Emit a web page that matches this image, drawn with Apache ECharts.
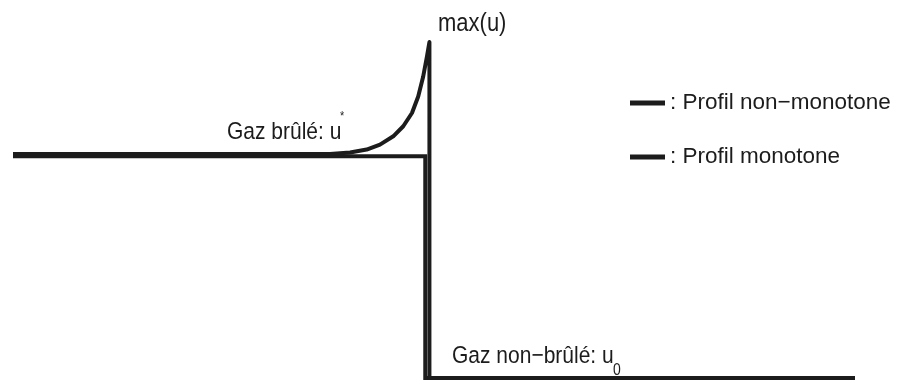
<!DOCTYPE html>
<html>
<head>
<meta charset="utf-8">
<script src="https://cdn.jsdelivr.net/npm/echarts@6/dist/echarts.min.js"></script>
<style>
  html, body { margin: 0; padding: 0; background: #fff; }
  #chart { width: 899px; height: 382px; }
</style>
</head>
<body>
<div id="chart"></div>
<script>
// Velocity profile across a flame front (front at x = 0).
// u = 0 : unburnt gas u0, u = 1 : burnt gas u*.
const xNonMono = [-1, -0.237, -0.189, -0.149, -0.117, -0.085, -0.061, -0.040, -0.025, -0.013, -0.004, 0.002, 0.002, 1.026];
const uNonMono = [1.0, 1.0, 1.007, 1.020, 1.042, 1.079, 1.124, 1.183, 1.257, 1.346, 1.435, 1.5, 0, 0];

const xMono = [-1, -0.008, -0.008, 1.026];
const uMono = [0.99, 0.99, 0, 0];

const seriesNames = ['Profil non\u2212monotone', 'Profil monotone'];
const labelBurnt = 'Gaz brûlé: u';
const labelUnburnt = 'Gaz non\u2212brûlé: u';
const labelMax = 'max(u)';

const FONT = "'Liberation Sans', Arial, Helvetica, sans-serif";
const INK = '#1c1c1c';

const pairs = (xs, ys) => xs.map((x, i) => [x, ys[i]]);

const chart = echarts.init(document.getElementById('chart'), null, { renderer: 'canvas' });

// Annotation text, slightly stretched vertically (condensed look).
const textEl = (text, x, y, size) => ({
  type: 'text',
  x: x,
  y: y,
  scaleY: 1.15,
  silent: true,
  style: {
    text: text,
    fill: INK,
    font: size + 'px ' + FONT,
    verticalAlign: 'middle',
    align: 'left'
  }
});

chart.setOption({
  animation: false,
  backgroundColor: '#fff',
  grid: { left: 13, right: 44, top: 30, bottom: 4, containLabel: false },
  xAxis: {
    type: 'value', min: -1, max: 1.026,
    show: false, splitLine: { show: false }
  },
  yAxis: {
    type: 'value', min: 0, max: 1.5536,
    show: false, splitLine: { show: false }
  },
  legend: {
    orient: 'vertical',
    left: 630,
    top: 91,
    padding: 0,
    icon: 'rect',
    itemWidth: 35,
    itemHeight: 5,
    itemGap: 30,
    formatter: ': {name}',
    textStyle: { fontFamily: FONT, fontSize: 22.5, lineHeight: 24, color: INK },
    data: seriesNames
  },
  series: [
    {
      name: seriesNames[0],
      type: 'line',
      data: pairs(xNonMono, uNonMono),
      showSymbol: false,
      clip: false,
      color: INK,
      lineStyle: { width: 4, color: INK, join: 'round' },
      z: 3
    },
    {
      name: seriesNames[1],
      type: 'line',
      data: pairs(xMono, uMono),
      showSymbol: false,
      clip: false,
      color: INK,
      lineStyle: { width: 4, color: INK, join: 'miter' },
      z: 2
    }
  ],
  graphic: [
    textEl(labelBurnt, 227, 132.3, 21),
    textEl('*', 340, 117, 11),
    textEl(labelUnburnt, 452, 356.5, 21),
    textEl('0', 613, 371, 14),
    textEl(labelMax, 438, 24.5, 22)
  ]
});
</script>
</body>
</html>
